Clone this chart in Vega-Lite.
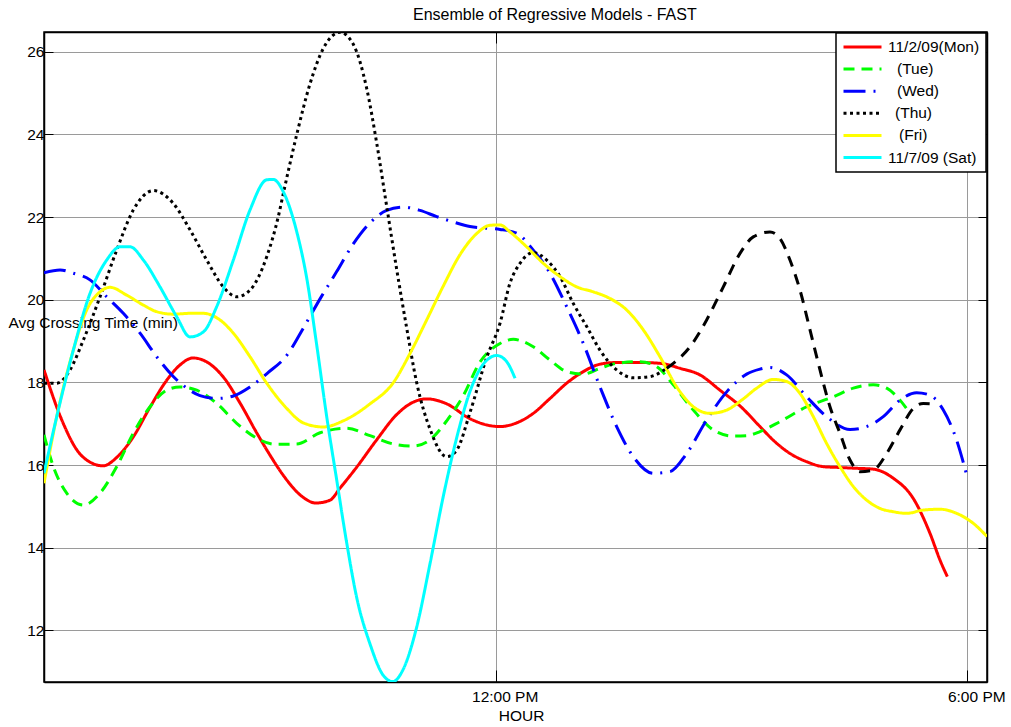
{
  "$schema": "https://vega.github.io/schema/vega-lite/v6.json",
  "width": 943,
  "height": 650,
  "autosize": {"type": "none"},
  "padding": {"left": 44, "top": 32, "right": 24, "bottom": 45},
  "background": "white",
  "title": {
    "text": "Ensemble of Regressive Models - FAST",
    "anchor": "start",
    "frame": "group",
    "dx": 369,
    "dy": 17,
    "offset": 13,
    "baseline": "alphabetic",
    "fontSize": 16,
    "fontWeight": "normal",
    "color": "black"
  },
  "config": {
    "font": "Liberation Sans",
    "view": {"stroke": "black", "strokeWidth": 1.5},
    "axis": {
      "labelFont": "Liberation Sans",
      "labelFontSize": 15.5,
      "labelColor": "black",
      "titleFont": "Liberation Sans",
      "titleFontSize": 15.5,
      "titleFontWeight": "normal",
      "titleColor": "black",
      "domainColor": "black",
      "domainWidth": 1.5,
      "tickColor": "black",
      "tickWidth": 1,
      "gridColor": "#9a9a9a",
      "gridWidth": 1,
      "gridOpacity": 1,
      "labelFlush": false,
      "labelOverlap": false
    }
  },
  "datasets": {
    "days": [
      {"day": "Mon", "hour": 6.253, "minutes": 18.30},
      {"day": "Mon", "hour": 6.495, "minutes": 17.02},
      {"day": "Mon", "hour": 6.673, "minutes": 16.36},
      {"day": "Mon", "hour": 6.838, "minutes": 16.07},
      {"day": "Mon", "hour": 7.004, "minutes": 15.98},
      {"day": "Mon", "hour": 7.182, "minutes": 16.19},
      {"day": "Mon", "hour": 7.389, "minutes": 16.68},
      {"day": "Mon", "hour": 7.602, "minutes": 17.40},
      {"day": "Mon", "hour": 7.818, "minutes": 18.06},
      {"day": "Mon", "hour": 7.983, "minutes": 18.42},
      {"day": "Mon", "hour": 8.149, "minutes": 18.59},
      {"day": "Mon", "hour": 8.327, "minutes": 18.49},
      {"day": "Mon", "hour": 8.534, "minutes": 18.13},
      {"day": "Mon", "hour": 8.747, "minutes": 17.50},
      {"day": "Mon", "hour": 8.959, "minutes": 16.78},
      {"day": "Mon", "hour": 9.128, "minutes": 16.24},
      {"day": "Mon", "hour": 9.294, "minutes": 15.76},
      {"day": "Mon", "hour": 9.510, "minutes": 15.28},
      {"day": "Mon", "hour": 9.714, "minutes": 15.08},
      {"day": "Mon", "hour": 9.892, "minutes": 15.15},
      {"day": "Mon", "hour": 10.019, "minutes": 15.44},
      {"day": "Mon", "hour": 10.232, "minutes": 15.95},
      {"day": "Mon", "hour": 10.486, "minutes": 16.61},
      {"day": "Mon", "hour": 10.740, "minutes": 17.22},
      {"day": "Mon", "hour": 10.910, "minutes": 17.48},
      {"day": "Mon", "hour": 11.122, "minutes": 17.60},
      {"day": "Mon", "hour": 11.377, "minutes": 17.48},
      {"day": "Mon", "hour": 11.673, "minutes": 17.12},
      {"day": "Mon", "hour": 11.885, "minutes": 16.97},
      {"day": "Mon", "hour": 12.055, "minutes": 16.93},
      {"day": "Mon", "hour": 12.267, "minutes": 17.02},
      {"day": "Mon", "hour": 12.478, "minutes": 17.25},
      {"day": "Mon", "hour": 12.691, "minutes": 17.61},
      {"day": "Mon", "hour": 12.903, "minutes": 17.98},
      {"day": "Mon", "hour": 13.115, "minutes": 18.26},
      {"day": "Mon", "hour": 13.327, "minutes": 18.44},
      {"day": "Mon", "hour": 13.539, "minutes": 18.48},
      {"day": "Mon", "hour": 13.836, "minutes": 18.48},
      {"day": "Mon", "hour": 14.090, "minutes": 18.46},
      {"day": "Mon", "hour": 14.345, "minutes": 18.34},
      {"day": "Mon", "hour": 14.599, "minutes": 18.18},
      {"day": "Mon", "hour": 14.854, "minutes": 17.81},
      {"day": "Mon", "hour": 15.108, "minutes": 17.43},
      {"day": "Mon", "hour": 15.363, "minutes": 16.93},
      {"day": "Mon", "hour": 15.532, "minutes": 16.60},
      {"day": "Mon", "hour": 15.744, "minutes": 16.28},
      {"day": "Mon", "hour": 15.957, "minutes": 16.08},
      {"day": "Mon", "hour": 16.168, "minutes": 15.96},
      {"day": "Mon", "hour": 16.380, "minutes": 15.94},
      {"day": "Mon", "hour": 16.593, "minutes": 15.92},
      {"day": "Mon", "hour": 16.804, "minutes": 15.90},
      {"day": "Mon", "hour": 17.059, "minutes": 15.68},
      {"day": "Mon", "hour": 17.313, "minutes": 15.19},
      {"day": "Mon", "hour": 17.525, "minutes": 14.35},
      {"day": "Mon", "hour": 17.653, "minutes": 13.70},
      {"day": "Mon", "hour": 17.746, "minutes": 13.30},

      {"day": "Tue", "hour": 6.253, "minutes": 16.73},
      {"day": "Tue", "hour": 6.372, "minutes": 15.96},
      {"day": "Tue", "hour": 6.542, "minutes": 15.32},
      {"day": "Tue", "hour": 6.753, "minutes": 15.03},
      {"day": "Tue", "hour": 6.966, "minutes": 15.32},
      {"day": "Tue", "hour": 7.178, "minutes": 15.96},
      {"day": "Tue", "hour": 7.389, "minutes": 16.77},
      {"day": "Tue", "hour": 7.602, "minutes": 17.41},
      {"day": "Tue", "hour": 7.814, "minutes": 17.81},
      {"day": "Tue", "hour": 7.983, "minutes": 17.89},
      {"day": "Tue", "hour": 8.196, "minutes": 17.81},
      {"day": "Tue", "hour": 8.450, "minutes": 17.49},
      {"day": "Tue", "hour": 8.705, "minutes": 17.01},
      {"day": "Tue", "hour": 8.959, "minutes": 16.65},
      {"day": "Tue", "hour": 9.200, "minutes": 16.50},
      {"day": "Tue", "hour": 9.468, "minutes": 16.51},
      {"day": "Tue", "hour": 9.765, "minutes": 16.78},
      {"day": "Tue", "hour": 10.104, "minutes": 16.89},
      {"day": "Tue", "hour": 10.401, "minutes": 16.71},
      {"day": "Tue", "hour": 10.697, "minutes": 16.51},
      {"day": "Tue", "hour": 10.952, "minutes": 16.46},
      {"day": "Tue", "hour": 11.164, "minutes": 16.61},
      {"day": "Tue", "hour": 11.377, "minutes": 17.07},
      {"day": "Tue", "hour": 11.588, "minutes": 17.68},
      {"day": "Tue", "hour": 11.800, "minutes": 18.49},
      {"day": "Tue", "hour": 12.055, "minutes": 18.94},
      {"day": "Tue", "hour": 12.224, "minutes": 19.04},
      {"day": "Tue", "hour": 12.478, "minutes": 18.86},
      {"day": "Tue", "hour": 12.691, "minutes": 18.54},
      {"day": "Tue", "hour": 12.903, "minutes": 18.26},
      {"day": "Tue", "hour": 13.115, "minutes": 18.20},
      {"day": "Tue", "hour": 13.327, "minutes": 18.34},
      {"day": "Tue", "hour": 13.539, "minutes": 18.46},
      {"day": "Tue", "hour": 13.836, "minutes": 18.50},
      {"day": "Tue", "hour": 14.048, "minutes": 18.38},
      {"day": "Tue", "hour": 14.260, "minutes": 17.94},
      {"day": "Tue", "hour": 14.514, "minutes": 17.33},
      {"day": "Tue", "hour": 14.768, "minutes": 16.85},
      {"day": "Tue", "hour": 15.023, "minutes": 16.70},
      {"day": "Tue", "hour": 15.193, "minutes": 16.71},
      {"day": "Tue", "hour": 15.363, "minutes": 16.81},
      {"day": "Tue", "hour": 15.617, "minutes": 17.05},
      {"day": "Tue", "hour": 15.957, "minutes": 17.41},
      {"day": "Tue", "hour": 16.295, "minutes": 17.65},
      {"day": "Tue", "hour": 16.550, "minutes": 17.86},
      {"day": "Tue", "hour": 16.804, "minutes": 17.94},
      {"day": "Tue", "hour": 16.975, "minutes": 17.86},
      {"day": "Tue", "hour": 17.144, "minutes": 17.57},
      {"day": "Tue", "hour": 17.271, "minutes": 17.25},

      {"day": "Wed", "hour": 6.253, "minutes": 20.65},
      {"day": "Wed", "hour": 6.457, "minutes": 20.72},
      {"day": "Wed", "hour": 6.626, "minutes": 20.64},
      {"day": "Wed", "hour": 6.838, "minutes": 20.48},
      {"day": "Wed", "hour": 7.051, "minutes": 20.07},
      {"day": "Wed", "hour": 7.262, "minutes": 19.67},
      {"day": "Wed", "hour": 7.475, "minutes": 19.19},
      {"day": "Wed", "hour": 7.687, "minutes": 18.62},
      {"day": "Wed", "hour": 7.898, "minutes": 18.14},
      {"day": "Wed", "hour": 8.069, "minutes": 17.86},
      {"day": "Wed", "hour": 8.238, "minutes": 17.68},
      {"day": "Wed", "hour": 8.450, "minutes": 17.61},
      {"day": "Wed", "hour": 8.662, "minutes": 17.67},
      {"day": "Wed", "hour": 8.874, "minutes": 17.89},
      {"day": "Wed", "hour": 9.100, "minutes": 18.23},
      {"day": "Wed", "hour": 9.341, "minutes": 18.65},
      {"day": "Wed", "hour": 9.552, "minutes": 19.31},
      {"day": "Wed", "hour": 9.765, "minutes": 20.02},
      {"day": "Wed", "hour": 9.977, "minutes": 20.68},
      {"day": "Wed", "hour": 10.188, "minutes": 21.35},
      {"day": "Wed", "hour": 10.401, "minutes": 21.86},
      {"day": "Wed", "hour": 10.613, "minutes": 22.16},
      {"day": "Wed", "hour": 10.824, "minutes": 22.24},
      {"day": "Wed", "hour": 11.037, "minutes": 22.16},
      {"day": "Wed", "hour": 11.249, "minutes": 22.01},
      {"day": "Wed", "hour": 11.461, "minutes": 21.88},
      {"day": "Wed", "hour": 11.673, "minutes": 21.77},
      {"day": "Wed", "hour": 11.885, "minutes": 21.73},
      {"day": "Wed", "hour": 12.055, "minutes": 21.70},
      {"day": "Wed", "hour": 12.267, "minutes": 21.61},
      {"day": "Wed", "hour": 12.478, "minutes": 21.20},
      {"day": "Wed", "hour": 12.691, "minutes": 20.64},
      {"day": "Wed", "hour": 12.903, "minutes": 19.83},
      {"day": "Wed", "hour": 13.115, "minutes": 18.94},
      {"day": "Wed", "hour": 13.327, "minutes": 17.89},
      {"day": "Wed", "hour": 13.539, "minutes": 16.93},
      {"day": "Wed", "hour": 13.751, "minutes": 16.20},
      {"day": "Wed", "hour": 14.005, "minutes": 15.80},
      {"day": "Wed", "hour": 14.218, "minutes": 15.84},
      {"day": "Wed", "hour": 14.430, "minutes": 16.28},
      {"day": "Wed", "hour": 14.684, "minutes": 17.09},
      {"day": "Wed", "hour": 14.939, "minutes": 17.77},
      {"day": "Wed", "hour": 15.193, "minutes": 18.20},
      {"day": "Wed", "hour": 15.363, "minutes": 18.32},
      {"day": "Wed", "hour": 15.490, "minutes": 18.36},
      {"day": "Wed", "hour": 15.702, "minutes": 18.18},
      {"day": "Wed", "hour": 15.957, "minutes": 17.65},
      {"day": "Wed", "hour": 16.211, "minutes": 17.17},
      {"day": "Wed", "hour": 16.508, "minutes": 16.86},
      {"day": "Wed", "hour": 16.720, "minutes": 16.93},
      {"day": "Wed", "hour": 16.931, "minutes": 17.17},
      {"day": "Wed", "hour": 17.144, "minutes": 17.57},
      {"day": "Wed", "hour": 17.356, "minutes": 17.75},
      {"day": "Wed", "hour": 17.525, "minutes": 17.69},
      {"day": "Wed", "hour": 17.695, "minutes": 17.33},
      {"day": "Wed", "hour": 17.865, "minutes": 16.60},
      {"day": "Wed", "hour": 17.992, "minutes": 15.76},

      {"day": "Thu", "hour": 6.253, "minutes": 17.98},
      {"day": "Thu", "hour": 6.415, "minutes": 17.98},
      {"day": "Thu", "hour": 6.584, "minutes": 18.30},
      {"day": "Thu", "hour": 6.753, "minutes": 19.02},
      {"day": "Thu", "hour": 6.966, "minutes": 20.07},
      {"day": "Thu", "hour": 7.178, "minutes": 21.20},
      {"day": "Thu", "hour": 7.389, "minutes": 22.17},
      {"day": "Thu", "hour": 7.644, "minutes": 22.64},
      {"day": "Thu", "hour": 7.898, "minutes": 22.33},
      {"day": "Thu", "hour": 8.111, "minutes": 21.69},
      {"day": "Thu", "hour": 8.323, "minutes": 20.96},
      {"day": "Thu", "hour": 8.534, "minutes": 20.31},
      {"day": "Thu", "hour": 8.705, "minutes": 20.07},
      {"day": "Thu", "hour": 8.874, "minutes": 20.23},
      {"day": "Thu", "hour": 9.087, "minutes": 21.04},
      {"day": "Thu", "hour": 9.234, "minutes": 22.01},
      {"day": "Thu", "hour": 9.298, "minutes": 22.57},
      {"day": "Thu", "hour": 9.468, "minutes": 23.99},
      {"day": "Thu", "hour": 9.637, "minutes": 25.22},
      {"day": "Thu", "hour": 9.807, "minutes": 26.08},
      {"day": "Thu", "hour": 10.019, "minutes": 26.47},
      {"day": "Thu", "hour": 10.188, "minutes": 26.18},
      {"day": "Thu", "hour": 10.359, "minutes": 25.11},
      {"day": "Thu", "hour": 10.486, "minutes": 23.79},
      {"day": "Thu", "hour": 10.613, "minutes": 22.26},
      {"day": "Thu", "hour": 10.740, "minutes": 20.74},
      {"day": "Thu", "hour": 10.868, "minutes": 19.31},
      {"day": "Thu", "hour": 10.995, "minutes": 17.99},
      {"day": "Thu", "hour": 11.164, "minutes": 16.87},
      {"day": "Thu", "hour": 11.377, "minutes": 16.20},
      {"day": "Thu", "hour": 11.504, "minutes": 16.36},
      {"day": "Thu", "hour": 11.673, "minutes": 17.27},
      {"day": "Thu", "hour": 11.885, "minutes": 18.60},
      {"day": "Thu", "hour": 12.055, "minutes": 19.43},
      {"day": "Thu", "hour": 12.182, "minutes": 20.40},
      {"day": "Thu", "hour": 12.309, "minutes": 20.88},
      {"day": "Thu", "hour": 12.478, "minutes": 21.14},
      {"day": "Thu", "hour": 12.649, "minutes": 20.96},
      {"day": "Thu", "hour": 12.818, "minutes": 20.56},
      {"day": "Thu", "hour": 12.987, "minutes": 19.91},
      {"day": "Thu", "hour": 13.158, "minutes": 19.35},
      {"day": "Thu", "hour": 13.327, "minutes": 18.78},
      {"day": "Thu", "hour": 13.539, "minutes": 18.30},
      {"day": "Thu", "hour": 13.751, "minutes": 18.11},
      {"day": "Thu", "hour": 13.963, "minutes": 18.14},
      {"day": "Thu", "hour": 14.176, "minutes": 18.34},

      {"day": "Fri", "hour": 6.253, "minutes": 15.56},
      {"day": "Fri", "hour": 6.415, "minutes": 17.17},
      {"day": "Fri", "hour": 6.626, "minutes": 18.78},
      {"day": "Fri", "hour": 6.796, "minutes": 19.75},
      {"day": "Fri", "hour": 6.966, "minutes": 20.19},
      {"day": "Fri", "hour": 7.093, "minutes": 20.30},
      {"day": "Fri", "hour": 7.305, "minutes": 20.11},
      {"day": "Fri", "hour": 7.517, "minutes": 19.87},
      {"day": "Fri", "hour": 7.687, "minutes": 19.71},
      {"day": "Fri", "hour": 7.898, "minutes": 19.65},
      {"day": "Fri", "hour": 8.111, "minutes": 19.67},
      {"day": "Fri", "hour": 8.280, "minutes": 19.67},
      {"day": "Fri", "hour": 8.492, "minutes": 19.51},
      {"day": "Fri", "hour": 8.662, "minutes": 19.19},
      {"day": "Fri", "hour": 8.874, "minutes": 18.62},
      {"day": "Fri", "hour": 9.087, "minutes": 17.98},
      {"day": "Fri", "hour": 9.341, "minutes": 17.37},
      {"day": "Fri", "hour": 9.552, "minutes": 17.02},
      {"day": "Fri", "hour": 9.807, "minutes": 16.92},
      {"day": "Fri", "hour": 10.061, "minutes": 17.07},
      {"day": "Fri", "hour": 10.401, "minutes": 17.48},
      {"day": "Fri", "hour": 10.697, "minutes": 17.99},
      {"day": "Fri", "hour": 10.910, "minutes": 18.70},
      {"day": "Fri", "hour": 11.122, "minutes": 19.51},
      {"day": "Fri", "hour": 11.333, "minutes": 20.33},
      {"day": "Fri", "hour": 11.546, "minutes": 21.09},
      {"day": "Fri", "hour": 11.758, "minutes": 21.60},
      {"day": "Fri", "hour": 11.927, "minutes": 21.80},
      {"day": "Fri", "hour": 12.055, "minutes": 21.81},
      {"day": "Fri", "hour": 12.182, "minutes": 21.64},
      {"day": "Fri", "hour": 12.394, "minutes": 21.28},
      {"day": "Fri", "hour": 12.606, "minutes": 20.88},
      {"day": "Fri", "hour": 12.818, "minutes": 20.56},
      {"day": "Fri", "hour": 13.031, "minutes": 20.31},
      {"day": "Fri", "hour": 13.242, "minutes": 20.19},
      {"day": "Fri", "hour": 13.454, "minutes": 20.03},
      {"day": "Fri", "hour": 13.667, "minutes": 19.75},
      {"day": "Fri", "hour": 13.878, "minutes": 19.27},
      {"day": "Fri", "hour": 14.090, "minutes": 18.62},
      {"day": "Fri", "hour": 14.303, "minutes": 17.89},
      {"day": "Fri", "hour": 14.514, "minutes": 17.41},
      {"day": "Fri", "hour": 14.726, "minutes": 17.25},
      {"day": "Fri", "hour": 14.939, "minutes": 17.33},
      {"day": "Fri", "hour": 15.150, "minutes": 17.60},
      {"day": "Fri", "hour": 15.321, "minutes": 17.86},
      {"day": "Fri", "hour": 15.532, "minutes": 18.07},
      {"day": "Fri", "hour": 15.702, "minutes": 18.02},
      {"day": "Fri", "hour": 15.872, "minutes": 17.73},
      {"day": "Fri", "hour": 16.041, "minutes": 17.17},
      {"day": "Fri", "hour": 16.211, "minutes": 16.52},
      {"day": "Fri", "hour": 16.380, "minutes": 15.96},
      {"day": "Fri", "hour": 16.550, "minutes": 15.48},
      {"day": "Fri", "hour": 16.720, "minutes": 15.15},
      {"day": "Fri", "hour": 16.889, "minutes": 14.95},
      {"day": "Fri", "hour": 17.059, "minutes": 14.87},
      {"day": "Fri", "hour": 17.229, "minutes": 14.83},
      {"day": "Fri", "hour": 17.440, "minutes": 14.91},
      {"day": "Fri", "hour": 17.653, "minutes": 14.93},
      {"day": "Fri", "hour": 17.865, "minutes": 14.83},
      {"day": "Fri", "hour": 18.076, "minutes": 14.59},
      {"day": "Fri", "hour": 18.251, "minutes": 14.27},

      {"day": "Sat", "hour": 6.253, "minutes": 15.80},
      {"day": "Sat", "hour": 6.415, "minutes": 17.17},
      {"day": "Sat", "hour": 6.626, "minutes": 18.78},
      {"day": "Sat", "hour": 6.838, "minutes": 20.15},
      {"day": "Sat", "hour": 7.051, "minutes": 20.96},
      {"day": "Sat", "hour": 7.220, "minutes": 21.28},
      {"day": "Sat", "hour": 7.347, "minutes": 21.28},
      {"day": "Sat", "hour": 7.517, "minutes": 20.96},
      {"day": "Sat", "hour": 7.729, "minutes": 20.31},
      {"day": "Sat", "hour": 7.941, "minutes": 19.59},
      {"day": "Sat", "hour": 8.111, "minutes": 19.10},
      {"day": "Sat", "hour": 8.280, "minutes": 19.22},
      {"day": "Sat", "hour": 8.450, "minutes": 19.83},
      {"day": "Sat", "hour": 8.662, "minutes": 20.96},
      {"day": "Sat", "hour": 8.874, "minutes": 22.17},
      {"day": "Sat", "hour": 9.087, "minutes": 22.90},
      {"day": "Sat", "hour": 9.170, "minutes": 22.91},
      {"day": "Sat", "hour": 9.298, "minutes": 22.61},
      {"day": "Sat", "hour": 9.468, "minutes": 21.65},
      {"day": "Sat", "hour": 9.595, "minutes": 20.53},
      {"day": "Sat", "hour": 9.723, "minutes": 18.90},
      {"day": "Sat", "hour": 9.850, "minutes": 17.17},
      {"day": "Sat", "hour": 9.977, "minutes": 15.64},
      {"day": "Sat", "hour": 10.104, "minutes": 14.12},
      {"day": "Sat", "hour": 10.232, "minutes": 12.79},
      {"day": "Sat", "hour": 10.401, "minutes": 11.67},
      {"day": "Sat", "hour": 10.570, "minutes": 10.91},
      {"day": "Sat", "hour": 10.690, "minutes": 10.76},
      {"day": "Sat", "hour": 10.824, "minutes": 11.06},
      {"day": "Sat", "hour": 10.995, "minutes": 12.08},
      {"day": "Sat", "hour": 11.164, "minutes": 13.61},
      {"day": "Sat", "hour": 11.333, "minutes": 15.24},
      {"day": "Sat", "hour": 11.504, "minutes": 16.66},
      {"day": "Sat", "hour": 11.673, "minutes": 17.78},
      {"day": "Sat", "hour": 11.842, "minutes": 18.44},
      {"day": "Sat", "hour": 12.013, "minutes": 18.65},
      {"day": "Sat", "hour": 12.140, "minutes": 18.50},
      {"day": "Sat", "hour": 12.246, "minutes": 18.10}
    ],
    "thuAfternoon": [
      {"hour": 14.176, "minutes": 18.34},
      {"hour": 14.260, "minutes": 18.46},
      {"hour": 14.472, "minutes": 18.86},
      {"hour": 14.684, "minutes": 19.51},
      {"hour": 14.896, "minutes": 20.31},
      {"hour": 15.108, "minutes": 21.12},
      {"hour": 15.277, "minutes": 21.52},
      {"hour": 15.490, "minutes": 21.64},
      {"hour": 15.617, "minutes": 21.48},
      {"hour": 15.744, "minutes": 20.96},
      {"hour": 15.872, "minutes": 20.23},
      {"hour": 15.999, "minutes": 19.27},
      {"hour": 16.126, "minutes": 18.30},
      {"hour": 16.253, "minutes": 17.41},
      {"hour": 16.380, "minutes": 16.77},
      {"hour": 16.508, "minutes": 16.12},
      {"hour": 16.635, "minutes": 15.84},
      {"hour": 16.804, "minutes": 15.88},
      {"hour": 16.975, "minutes": 16.28},
      {"hour": 17.144, "minutes": 16.85},
      {"hour": 17.313, "minutes": 17.37},
      {"hour": 17.440, "minutes": 17.49},
      {"hour": 17.567, "minutes": 17.48}
    ]
  },
  "layer": [
    {
      "data": {"name": "days"},
      "mark": {"type": "line", "interpolate": "monotone", "strokeWidth": 3, "clip": true},
      "encoding": {
        "x": {
          "field": "hour",
          "type": "quantitative",
          "scale": {"domain": [6.253, 18.251], "nice": false, "zero": false},
          "axis": {
            "values": [12, 18],
            "labelExpr": "datum.value == 12 ? '12:00 PM' : '6:00 PM'",
            "grid": true,
            "tickSize": -12,
            "labelPadding": 19,
            "labelOffset": 9,
            "title": "HOUR",
            "titleX": 477,
            "titleY": 33,
            "titleAlign": "center",
            "titleBaseline": "middle"
          }
        },
        "y": {
          "field": "minutes",
          "type": "quantitative",
          "scale": {"domain": [10.75, 26.477], "nice": false, "zero": false},
          "axis": {
            "values": [12, 14, 16, 18, 20, 22, 24, 26],
            "grid": true,
            "tickSize": -9,
            "labelPadding": 9,
            "title": "Avg Crossing Time (min)",
            "titleAngle": 0,
            "titleX": -36,
            "titleY": 290,
            "titleAlign": "left",
            "titleBaseline": "middle"
          }
        },
        "color": {
          "field": "day",
          "type": "nominal",
          "scale": {
            "domain": ["Mon", "Tue", "Wed", "Thu", "Fri", "Sat"],
            "range": ["#ff0000", "#00ff00", "#0000ff", "#000000", "#ffff00", "#00ffff"]
          },
          "legend": {
            "title": null,
            "orient": "top-right",
            "offset": 1,
            "symbolType": "stroke",
            "symbolSize": 1444,
            "symbolStrokeWidth": 3,
            "clipHeight": 16,
            "rowPadding": 5.1,
            "padding": 6,
            "labelOffset": 5,
            "labelFontSize": 15.5,
            "labelColor": "black",
            "strokeColor": "black",
            "fillColor": "white",
            "labelExpr": "datum.label == 'Mon' ? '11/2/09(Mon)' : datum.label == 'Sat' ? '11/7/09 (Sat)' : '(' + datum.label + ')'",
            "encode": {
              "legend": {"update": {"strokeWidth": {"value": 1.5}}},
              "labels": {"update": {"dx": {"signal": "datum.value == 'Tue' || datum.value == 'Wed' ? 9 : datum.value == 'Thu' ? 7 : datum.value == 'Fri' ? 11 : 0"}}}
            }
          }
        },
        "strokeDash": {
          "field": "day",
          "type": "nominal",
          "scale": {
            "domain": ["Mon", "Tue", "Wed", "Thu", "Fri", "Sat"],
            "range": [[1, 0], [11, 7], [22, 8, 2, 8], [3, 3.5], [1, 0], [1, 0]]
          },
          "legend": {
            "title": null,
            "orient": "top-right",
            "offset": 1,
            "symbolType": "stroke",
            "symbolSize": 1444,
            "symbolStrokeWidth": 3,
            "clipHeight": 16,
            "rowPadding": 5.1,
            "padding": 6,
            "labelOffset": 5,
            "labelFontSize": 15.5,
            "labelColor": "black",
            "strokeColor": "black",
            "fillColor": "white",
            "labelExpr": "datum.label == 'Mon' ? '11/2/09(Mon)' : datum.label == 'Sat' ? '11/7/09 (Sat)' : '(' + datum.label + ')'",
            "encode": {
              "legend": {"update": {"strokeWidth": {"value": 1.5}}},
              "labels": {"update": {"dx": {"signal": "datum.value == 'Tue' || datum.value == 'Wed' ? 9 : datum.value == 'Thu' ? 7 : datum.value == 'Fri' ? 11 : 0"}}}
            }
          }
        }
      }
    },
    {
      "data": {"name": "thuAfternoon"},
      "mark": {"type": "line", "interpolate": "monotone", "strokeWidth": 3, "color": "black", "strokeDash": [11, 8], "clip": true},
      "encoding": {
        "x": {
          "field": "hour",
          "type": "quantitative",
          "axis": {"orient": "top", "values": [12, 18], "labels": false, "grid": false, "tickSize": -11, "title": null}
        },
        "y": {
          "field": "minutes",
          "type": "quantitative",
          "axis": {"orient": "right", "values": [12, 14, 16, 18, 20, 22, 24, 26], "labels": false, "grid": false, "tickSize": -9, "title": null}
        }
      }
    }
  ],
  "resolve": {"axis": {"x": "independent", "y": "independent"}}
}
